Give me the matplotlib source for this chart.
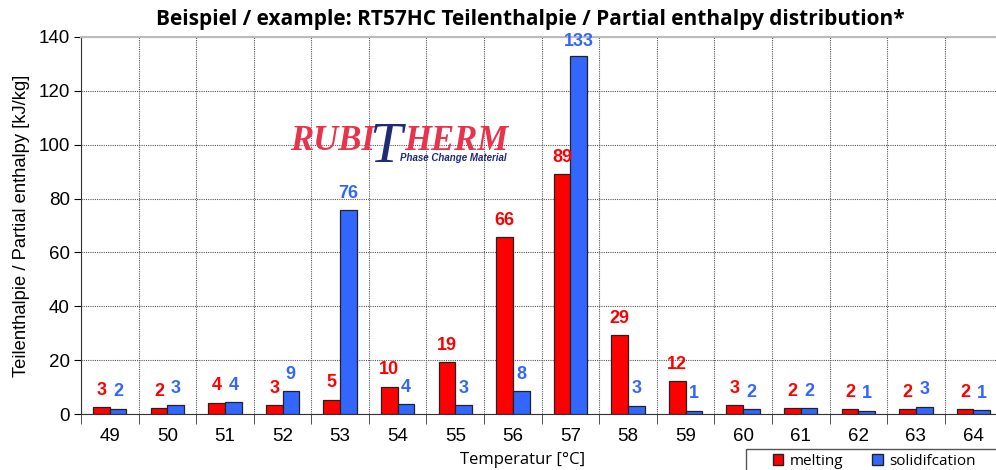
import numpy as np
import matplotlib.pyplot as plt
from matplotlib.patches import Patch, Rectangle

# temperatures and partial enthalpies [kJ/kg]
temps = ['49', '50', '51', '52', '53', '54', '55', '56', '57', '58', '59', '60', '61', '62', '63', '64']
melting = [2.6, 2.1, 4.2, 3.2, 5.3, 10.2, 19.2, 65.6, 89.1, 29.2, 12.3, 3.4, 2.1, 1.8, 1.9, 1.8]
solidification = [2.0, 3.3, 4.4, 8.6, 75.8, 3.6, 3.3, 8.4, 133.0, 3.1, 1.2, 1.9, 2.1, 1.2, 2.7, 1.4]

red = '#FF0000'
blue = '#3366FF'

fig = plt.figure(figsize=(9.96, 4.70), dpi=100)
ax = fig.add_axes([0.0813, 0.1191, 0.925, 0.8022])

x = np.arange(len(temps))
w = 0.29
ax.bar(x - w/2, melting, w, color=red, edgecolor='#222222', linewidth=0.9, zorder=3)
ax.bar(x + w/2, solidification, w, color=blue, edgecolor='#222222', linewidth=0.9, zorder=3)

for i in range(len(temps)):
    ax.annotate(f'{round(melting[i])}', (x[i] - w/2, melting[i]), xytext=(0, 6),
                textcoords='offset points', ha='center', va='bottom', color=red,
                fontsize=13, fontweight='bold', family='Liberation Sans', annotation_clip=False)
    ax.annotate(f'{round(solidification[i])}', (x[i] + w/2, solidification[i]), xytext=(0, 4 if solidification[i] > 130 else 6),
                textcoords='offset points', ha='center', va='bottom', color=blue,
                fontsize=13, fontweight='bold', family='Liberation Sans', annotation_clip=False)

ax.set_xlim(-0.5, 15.5)
ax.set_ylim(0, 140)
ax.set_yticks(range(0, 141, 20))
ax.set_xticks(x)
ax.set_xticklabels(temps)
ax.set_xticks(np.arange(-0.5, 16, 1), minor=True)
ax.tick_params(axis='x', which='major', length=0, pad=10, labelsize=13.5)
ax.tick_params(axis='x', which='minor', length=7, direction='out', color='#333333')
ax.tick_params(axis='y', length=5, direction='out', labelsize=13.5, pad=3)
for lab in ax.get_xticklabels() + ax.get_yticklabels():
    lab.set_family('Liberation Sans')

ax.grid(axis='y', which='major', linestyle=(0, (1, 1)), color='#555555', linewidth=0.8, zorder=0)
ax.grid(axis='x', which='minor', linestyle=(0, (1, 1)), color='#555555', linewidth=0.8, zorder=0)

ax.spines['right'].set_visible(False)
ax.spines['top'].set_color('#bbbbbb')
ax.spines['top'].set_linewidth(1.5)
ax.spines['left'].set_color('#333333')
ax.spines['bottom'].set_color('#333333')

ax.set_ylabel('Teilenthalpie / Partial enthalpy [kJ/kg]', family='Liberation Sans', fontsize=13.2, labelpad=6)
fig.text(0.525, 0.005, 'Temperatur [°C]', ha='center', va='bottom', fontsize=12, family='Open Sans')

fig.text(0.532, 0.958, 'Beispiel / example: RT57HC Teilenthalpie / Partial enthalpy distribution*',
         ha='center', va='center', fontsize=15, fontweight='bold', family='Open Sans')

# logo
logo_red = '#E8334A'
logo_blue = '#1F2A78'
fig.text(0.291, 0.681, 'RUBI', color=logo_red, fontsize=25, fontweight='bold', style='italic',
         family='Liberation Serif', ha='left', va='baseline')
fig.text(0.371, 0.655, 'T', color=logo_blue, fontsize=42, style='italic',
         family='Liberation Serif', ha='left', va='baseline')
fig.text(0.4056, 0.681, 'HERM', color=logo_red, fontsize=25, fontweight='bold', style='italic',
         family='Liberation Serif', ha='left', va='baseline')
fig.text(0.402, 0.658, 'Phase Change Material', color=logo_blue, fontsize=7, fontweight='bold',
         style='italic', family='Liberation Sans', ha='left', va='baseline')

# legend box (partly outside the figure like the original)
fig.patches.append(Rectangle((0.749, -0.05), 0.27, 0.095, transform=fig.transFigure,
                             facecolor='white', edgecolor='#555555', linewidth=1.0))
handles = [Patch(facecolor=red, edgecolor='#222222'), Patch(facecolor=blue, edgecolor='#222222')]
leg = fig.legend(handles, ['melting', 'solidifcation'], loc='center left', bbox_to_anchor=(0.768, 0.019),
                 ncol=2, frameon=False, prop={'family': 'Open Sans', 'size': 11},
                 handlelength=0.7, handleheight=0.7, handletextpad=0.4, columnspacing=1.9, borderpad=0.0)

fig.savefig('out.png', dpi=100)
